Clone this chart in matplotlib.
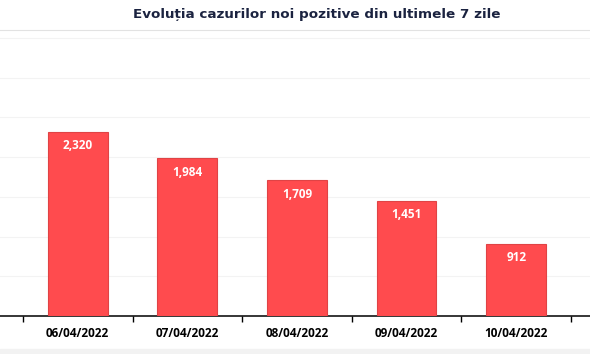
import numpy as np
import matplotlib.pyplot as plt

# date vizibile in captura
dates = ["06/04/2022", "07/04/2022", "08/04/2022", "09/04/2022", "10/04/2022"]
cases = [2320, 1984, 1709, 1451, 912]


def main():
    fig = plt.figure(figsize=(5.9, 3.54), dpi=100)
    # axa depaseste marginile imaginii (captura decupata)
    ax = fig.add_axes([0.0, 0.1073, 1.0, 0.8080])

    x = np.arange(len(dates))
    bars = ax.bar(x, cases, width=0.545, color="#ff4b4e", edgecolor="#e04345",
                  linewidth=0.8, zorder=3)

    for b, v in zip(bars, cases):
        ax.annotate(f"{v:,}", (b.get_x() + b.get_width() / 2, v),
                    xytext=(0, -10), textcoords="offset points",
                    ha="center", va="center", color="white",
                    fontsize=8.5, fontweight="bold", family="Open Sans")

    ax.set_xlim(-0.5 - 23 / 110, 4.5 + 19 / 110)
    ax.set_ylim(0, 3600)
    ax.set_yticks(np.arange(500, 3600, 500))
    ax.yaxis.grid(True, color="#f3f3f3", linewidth=0.8, zorder=0)
    ax.tick_params(axis="y", left=False, labelleft=False)

    ax.set_xticks(x)
    ax.set_xticklabels(dates, fontsize=8.5, fontweight="bold", family="Open Sans")
    ax.set_xticks(np.arange(-0.5, len(dates), 1.0), minor=True)
    ax.tick_params(axis="x", which="major", length=0, pad=8)
    ax.tick_params(axis="x", which="minor", length=4, width=1.0, color="black")

    for s in ["left", "right"]:
        ax.spines[s].set_visible(False)
    ax.spines["top"].set_color("#e2e2e2")
    ax.spines["bottom"].set_color("black")
    ax.spines["bottom"].set_linewidth(1.1)

    fig.text(0.537, 0.958, "Evoluția cazurilor noi pozitive din ultimele 7 zile",
             ha="center", va="center", fontsize=9.7, fontweight="bold",
             color="#1b2340", family="DejaVu Sans")

    # banda gri de la baza capturii
    fig.patches.append(plt.Rectangle((0, 0), 1, 0.014, transform=fig.transFigure,
                                     color="#f2f2f2", zorder=0))

    fig.savefig("out.png", dpi=100)


if __name__ == "__main__":
    main()
